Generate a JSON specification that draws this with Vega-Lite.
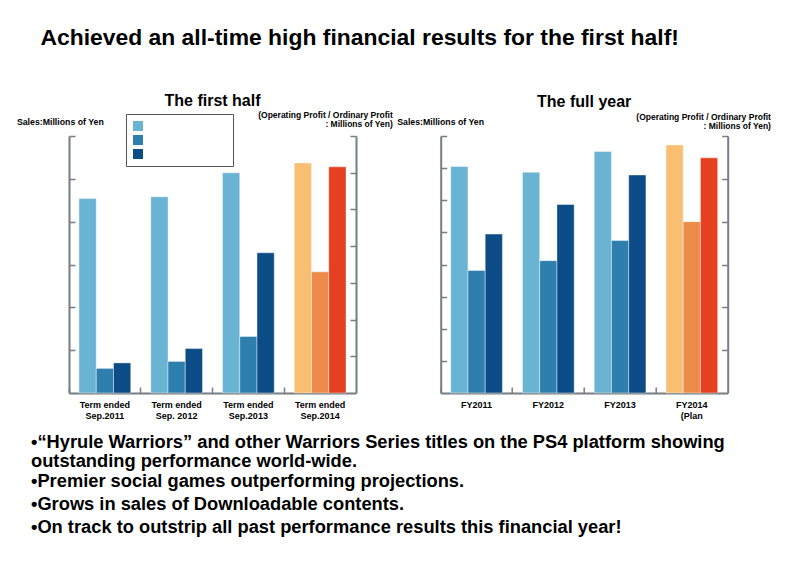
{
  "$schema": "https://vega.github.io/schema/vega-lite/v6.json",
  "background": "white",
  "padding": {"left": 16, "top": 27, "right": 5, "bottom": 5},
  "title": {
    "text": "Achieved an all-time high financial results for the first half!",
    "anchor": "start",
    "frame": "bounds",
    "font": "Liberation Sans",
    "fontSize": 22.9,
    "fontWeight": "bold",
    "color": "black",
    "dx": 24,
    "offset": 43
  },
  "datasets": {
    "firstHalf": [
      {"period": "Term ended\nSep.2011", "series": "Sales", "bar": "Sales", "value": 4.54},
      {"period": "Term ended\nSep.2011", "series": "Operating Profit", "bar": "Operating Profit", "value": 0.67},
      {"period": "Term ended\nSep.2011", "series": "Ordinary Profit", "bar": "Ordinary Profit", "value": 0.82},
      {"period": "Term ended\nSep. 2012", "series": "Sales", "bar": "Sales", "value": 4.58},
      {"period": "Term ended\nSep. 2012", "series": "Operating Profit", "bar": "Operating Profit", "value": 0.86},
      {"period": "Term ended\nSep. 2012", "series": "Ordinary Profit", "bar": "Ordinary Profit", "value": 1.21},
      {"period": "Term ended\nSep.2013", "series": "Sales", "bar": "Sales", "value": 5.14},
      {"period": "Term ended\nSep.2013", "series": "Operating Profit", "bar": "Operating Profit", "value": 1.54},
      {"period": "Term ended\nSep.2013", "series": "Ordinary Profit", "bar": "Ordinary Profit", "value": 3.82},
      {"period": "Term ended\nSep.2014", "series": "Sales", "bar": "Sales (current)", "value": 5.37},
      {"period": "Term ended\nSep.2014", "series": "Operating Profit", "bar": "Operating Profit (current)", "value": 3.30},
      {"period": "Term ended\nSep.2014", "series": "Ordinary Profit", "bar": "Ordinary Profit (current)", "value": 6.16}
    ],
    "fullYear": [
      {"period": "FY2011", "series": "Sales", "bar": "Sales", "value": 7.05},
      {"period": "FY2011", "series": "Operating Profit", "bar": "Operating Profit", "value": 2.86},
      {"period": "FY2011", "series": "Ordinary Profit", "bar": "Ordinary Profit", "value": 3.71},
      {"period": "FY2012", "series": "Sales", "bar": "Sales", "value": 6.87},
      {"period": "FY2012", "series": "Operating Profit", "bar": "Operating Profit", "value": 3.09},
      {"period": "FY2012", "series": "Ordinary Profit", "bar": "Ordinary Profit", "value": 4.40},
      {"period": "FY2013", "series": "Sales", "bar": "Sales", "value": 7.52},
      {"period": "FY2013", "series": "Operating Profit", "bar": "Operating Profit", "value": 3.56},
      {"period": "FY2013", "series": "Ordinary Profit", "bar": "Ordinary Profit", "value": 5.09},
      {"period": "FY2014\n(Plan", "series": "Sales", "bar": "Sales (current)", "value": 7.72},
      {"period": "FY2014\n(Plan", "series": "Operating Profit", "bar": "Operating Profit (current)", "value": 4.00},
      {"period": "FY2014\n(Plan", "series": "Ordinary Profit", "bar": "Ordinary Profit (current)", "value": 5.49}
    ],
    "bulletA": [
      {"line": 1, "text": "•“Hyrule Warriors” and other Warriors Series titles on the PS4 platform showing"},
      {"line": 2, "text": "\u00a0\u00a0outstanding performance world-wide."}
    ],
    "bulletB": [
      {"line": 1, "text": "•Premier social games outperforming projections."},
      {"line": 2, "text": "•Grows in sales of Downloadable contents."},
      {"line": 3, "text": "•On track to outstrip all past performance results this financial year!"}
    ]
  },
  "spacing": 12,
  "vconcat": [
    {
      "spacing": 3.7,
      "resolve": {"scale": {"color": "independent"}, "legend": {"color": "independent"}},
      "hconcat": [
        {
          "width": 287,
          "height": 257,
          "title": {"text": "The first half", "font": "Liberation Sans", "fontSize": 16, "fontWeight": "bold", "color": "black", "anchor": "middle", "offset": 1},
          "data": {"name": "firstHalf"},
          "encoding": {
            "x": {"field": "period", "type": "nominal", "sort": null, "scale": {"paddingInner": 0, "paddingOuter": 0},
              "axis": {"title": null, "labelExpr": "split(datum.label, '\\n')", "labelAngle": 0, "labelFontWeight": "bold", "labelFontSize": 9, "labelColor": "black", "labelPadding": 13, "labelBaseline": "top", "labelLineHeight": 11, "bandPosition": 0, "tickSize": -6}},
            "xOffset": {"field": "series", "type": "nominal", "scale": {"domain": ["Sales", "Operating Profit", "Ordinary Profit"], "paddingInner": 0, "paddingOuter": 0.58}},
            "color": {"field": "bar", "type": "nominal",
              "scale": {"domain": ["Sales", "Operating Profit", "Ordinary Profit", "Sales (current)", "Operating Profit (current)", "Ordinary Profit (current)"],
                        "range": ["#69b3d3", "#2e7fad", "#0c4c87", "#f8be72", "#ec8b4a", "#e5401f"]},
              "legend": {"values": ["Sales", "Operating Profit", "Ordinary Profit"], "orient": "none", "legendX": 57, "legendY": -22, "title": null,
                         "symbolType": "square", "symbolSize": 100, "symbolStrokeWidth": 0, "symbolOpacity": 1,
                         "labelExpr": "''", "labelFontSize": 10, "labelOffset": 83,
                         "padding": 7, "rowPadding": 4, "strokeColor": "#555555", "fillColor": "white"}}
          },
          "layer": [
            {
              "transform": [{"filter": "datum.series === 'Sales'"}],
              "mark": {"type": "bar", "stroke": "white", "strokeWidth": 0.7, "strokeOpacity": 0.6},
              "encoding": {
                "y": {"field": "value", "type": "quantitative", "scale": {"domain": [0, 6], "nice": false},
                  "axis": {"orient": "left", "values": [1, 2, 3, 4, 5, 6], "labels": false, "tickSize": -6, "grid": false,
                    "title": "Sales:Millions of Yen", "titleAngle": 0, "titleAlign": "left", "titleBaseline": "middle", "titleX": -52.6, "titleY": -14.3}}
              }
            },
            {
              "transform": [{"filter": "datum.series !== 'Sales'"}],
              "mark": {"type": "bar", "stroke": "white", "strokeWidth": 0.7, "strokeOpacity": 0.6},
              "encoding": {
                "y": {"field": "value", "type": "quantitative", "scale": {"domain": [0, 7], "nice": false},
                  "axis": {"orient": "right", "values": [1, 2, 3, 4, 5, 6, 7], "labels": false, "tickSize": -6, "grid": false,
                    "title": ["(Operating Profit / Ordinary Profit", ": Millions of Yen)"], "titleAngle": 0, "titleAlign": "right", "titleBaseline": "middle", "titleFontSize": 8.5, "titleLineHeight": 9, "titleX": 36.3, "titleY": -22}}
              }
            }
          ],
          "resolve": {"scale": {"y": "independent"}}
        },
        {
          "width": 287,
          "height": 257,
          "title": {"text": "The full year", "font": "Liberation Sans", "fontSize": 16, "fontWeight": "bold", "color": "black", "anchor": "middle", "offset": 3},
          "data": {"name": "fullYear"},
          "encoding": {
            "x": {"field": "period", "type": "nominal", "sort": null, "scale": {"paddingInner": 0, "paddingOuter": 0},
              "axis": {"title": null, "labelExpr": "split(datum.label, '\\n')", "labelAngle": 0, "labelFontWeight": "bold", "labelFontSize": 9, "labelColor": "black", "labelPadding": 13, "labelBaseline": "top", "labelLineHeight": 11, "bandPosition": 0, "tickSize": -6}},
            "xOffset": {"field": "series", "type": "nominal", "scale": {"domain": ["Sales", "Operating Profit", "Ordinary Profit"], "paddingInner": 0, "paddingOuter": 0.58}},
            "color": {"field": "bar", "type": "nominal",
              "scale": {"domain": ["Sales", "Operating Profit", "Ordinary Profit", "Sales (current)", "Operating Profit (current)", "Ordinary Profit (current)"],
                        "range": ["#69b3d3", "#2e7fad", "#0c4c87", "#f8be72", "#ec8b4a", "#e5401f"]},
              "legend": null}
          },
          "layer": [
            {
              "transform": [{"filter": "datum.series === 'Sales'"}],
              "mark": {"type": "bar", "stroke": "white", "strokeWidth": 0.7, "strokeOpacity": 0.6},
              "encoding": {
                "y": {"field": "value", "type": "quantitative", "scale": {"domain": [0, 8], "nice": false},
                  "axis": {"orient": "left", "values": [1, 2, 3, 4, 5, 6, 7, 8], "labels": false, "tickSize": -6, "grid": false,
                    "title": "Sales:Millions of Yen", "titleAngle": 0, "titleAlign": "left", "titleBaseline": "middle", "titleX": -44, "titleY": -14.3}}
              }
            },
            {
              "transform": [{"filter": "datum.series !== 'Sales'"}],
              "mark": {"type": "bar", "stroke": "white", "strokeWidth": 0.7, "strokeOpacity": 0.6},
              "encoding": {
                "y": {"field": "value", "type": "quantitative", "scale": {"domain": [0, 6], "nice": false},
                  "axis": {"orient": "right", "values": [1, 2, 3, 4, 5, 6], "labels": false, "tickSize": -6, "grid": false,
                    "title": ["(Operating Profit / Ordinary Profit", ": Millions of Yen)"], "titleAngle": 0, "titleAlign": "right", "titleBaseline": "middle", "titleFontSize": 8.5, "titleLineHeight": 9, "titleX": 42.7, "titleY": -19.5}}
              }
            }
          ],
          "resolve": {"scale": {"y": "independent"}}
        }
      ]
    },
    {
      "spacing": 0,
      "vconcat": [
        {
          "width": 700,
          "height": 38,
          "data": {"name": "bulletA"},
          "mark": {"type": "text", "align": "left", "baseline": "middle", "font": "Liberation Sans", "fontSize": 18.3, "fontWeight": "bold", "color": "black", "dx": -38},
          "encoding": {
            "x": {"datum": 0, "type": "quantitative", "scale": {"domain": [0, 1]}, "axis": null},
            "y": {"field": "line", "type": "ordinal", "axis": null},
            "text": {"field": "text", "type": "nominal"}
          }
        },
        {
          "width": 700,
          "height": 68,
          "data": {"name": "bulletB"},
          "mark": {"type": "text", "align": "left", "baseline": "middle", "font": "Liberation Sans", "fontSize": 18.3, "fontWeight": "bold", "color": "black", "dx": -38},
          "encoding": {
            "x": {"datum": 0, "type": "quantitative", "scale": {"domain": [0, 1]}, "axis": null},
            "y": {"field": "line", "type": "ordinal", "axis": null},
            "text": {"field": "text", "type": "nominal"}
          }
        }
      ]
    }
  ],
  "config": {
    "view": {"stroke": null},
    "font": "Liberation Sans",
    "axis": {
      "domainColor": "#777d81",
      "domainWidth": 2,
      "tickColor": "#777d81",
      "tickWidth": 1.5,
      "titleFont": "Liberation Sans",
      "titleFontSize": 8.75,
      "titleFontWeight": "bold",
      "titleColor": "black",
      "labelFont": "Liberation Sans"
    }
  }
}
